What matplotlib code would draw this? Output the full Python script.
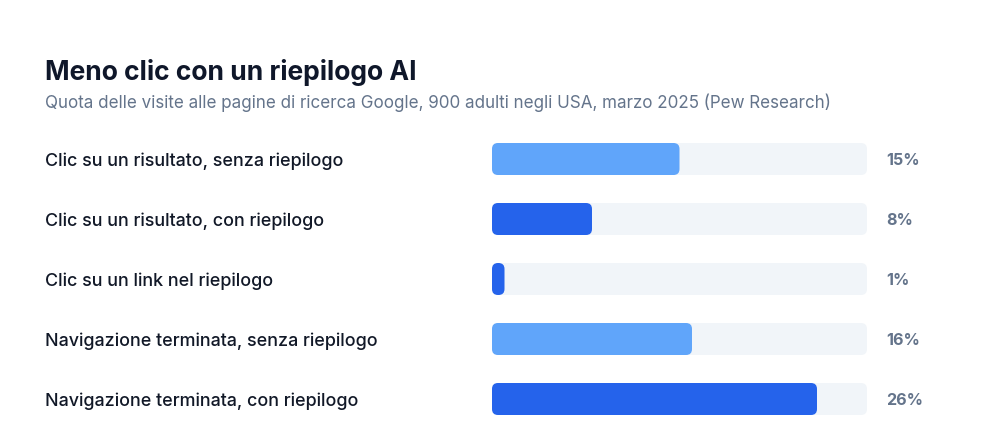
import matplotlib
matplotlib.use("Agg")
import matplotlib.pyplot as plt
from matplotlib.patches import FancyBboxPatch
from matplotlib.transforms import blended_transform_factory

plt.rcParams['font.family'] = ['Inter', 'DejaVu Sans']

categories = [
    "Clic su un risultato, senza riepilogo",
    "Clic su un risultato, con riepilogo",
    "Clic su un link nel riepilogo",
    "Navigazione terminata, senza riepilogo",
    "Navigazione terminata, con riepilogo",
]
values = [15, 8, 1, 16, 26]
has_summary = [False, True, True, False, True]
value_labels = ["15%", "8%", "1%", "16%", "26%"]

title = "Meno clic con un riepilogo AI"
subtitle = "Quota delle visite alle pagine di ricerca Google, 900 adulti negli USA, marzo 2025 (Pew Research)"

LIGHT = "#60A5FA"
DARK = "#2563EB"
TRACK = "#F1F5F9"
XMAX = 30

W, H = 1000, 430
fig = plt.figure(figsize=(W / 100, H / 100), dpi=100)
fig.patch.set_facecolor("white")

# bar area: x 492..867 px, rows 60 px apart starting at 159 px
ax = fig.add_axes([492 / W, 1 - 429 / H, 375 / W, 300 / H])
ax.set_xlim(0, XMAX)
ax.set_ylim(len(categories) - 0.5, -0.5)
ax.axis("off")

bar_h = 32 / 60
px_x = XMAX / 375      # data units per pixel in x
px_y = 1 / 60          # data units per pixel in y
aspect = px_y / px_x
radius = 6 * px_x

for i, (v, s) in enumerate(zip(values, has_summary)):
    track = FancyBboxPatch((0, i - bar_h / 2), XMAX, bar_h,
                           boxstyle=f"round,pad=0,rounding_size={radius}",
                           mutation_aspect=aspect, fc=TRACK, ec="none")
    ax.add_patch(track)
    bar = FancyBboxPatch((0, i - bar_h / 2), v, bar_h,
                         boxstyle=f"round,pad=0,rounding_size={radius}",
                         mutation_aspect=aspect, fc=DARK if s else LIGHT, ec="none")
    ax.add_patch(bar)

tr = blended_transform_factory(fig.transFigure, ax.transData)
for i, (cat, lab) in enumerate(zip(categories, value_labels)):
    fig.text(45 / W, i + 0.03, cat, transform=tr, ha="left", va="center",
             fontsize=12.9, color="#111827", fontweight="medium")
    fig.text(886 / W, i + 0.02, lab, transform=tr, ha="left", va="center",
             fontsize=11.6, color="#64748B", fontweight="bold")

fig.text(45 / W, 1 - 72 / H, title, ha="left", va="center",
         fontsize=19, fontweight="bold", color="#0F172A")
fig.text(45 / W, 1 - 103 / H, subtitle, ha="left", va="center",
         fontsize=12.25, color="#64748B")

fig.savefig("out.png", dpi=100, facecolor="white")
